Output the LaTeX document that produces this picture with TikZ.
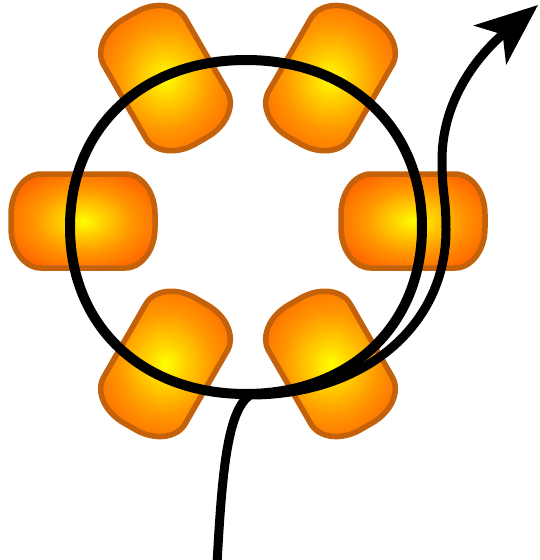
\documentclass[tikz,border=0pt]{standalone}
\usetikzlibrary{arrows.meta}
\definecolor{ember}{RGB}{255,96,0}
\definecolor{amber}{RGB}{255,150,0}
\definecolor{glow}{RGB}{255,215,0}
\definecolor{rim}{RGB}{196,98,12}
\pgfdeclareradialshading{padglow}{\pgfpoint{0bp}{0bp}}{color(0bp)=(yellow); color(6bp)=(glow); color(17bp)=(amber); color(30bp)=(ember); color(50bp)=(ember)}

\begin{document}
\begin{tikzpicture}[x=1pt,y=-1pt,
  pad/.style={draw=rim, line width=5.5pt, shading=padglow},
  ring/.style={line width=10pt},
  track/.style={line width=9pt, -{Stealth[length=62pt,width=50pt,inset=16pt]}}]
  \useasboundingbox (0,0) rectangle (540,560);
  % six pads around the hub
  \coordinate (hub) at (248,221);
  \begin{scope}[shift={(hub)}]
    \foreach \a in {0,60,...,300}
      \shadedraw[pad, rotate=-\a, shift={(165,0)}]
        (-42,-47) -- (42,-47) arc[start angle=-90, end angle=0, x radius=30, y radius=40]
        -- (72,7) arc[start angle=0, end angle=90, x radius=30, y radius=40]
        -- (-42,47) arc[start angle=90, end angle=180, x radius=30, y radius=40]
        -- (-72,-7) arc[start angle=180, end angle=270, x radius=30, y radius=40] -- cycle;
  \end{scope}
  % the ring
  \coordinate (w) at (70,227); \coordinate (n) at (246,60);
  \coordinate (e) at (422,227); \coordinate (s) at (246,394);
  \draw[ring] (w) .. controls +(0,-99) and +(-104,0) .. (n)
    .. controls +(104,0) and +(0,-99) .. (e)
    .. controls +(0,99) and +(104,0) .. (s)
    .. controls +(-104,0) and +(0,99) .. (w) -- cycle;
  % the track
  \coordinate (foot) at (217,564); \coordinate (join) at (250,395);
  \coordinate (flank) at (446,230); \coordinate (kink) at (442,160);
  \coordinate (tip) at (538,5);
  \draw[track] (foot) .. controls +(5,-90) and +(-23,16) .. (join)
    .. controls +(115,0) and +(0,95) .. (flank)
    .. controls +(0,-35) and +(0,35) .. (kink)
    .. controls +(0,-60) and +(-60,50) .. (tip);
\end{tikzpicture}
\end{document}
